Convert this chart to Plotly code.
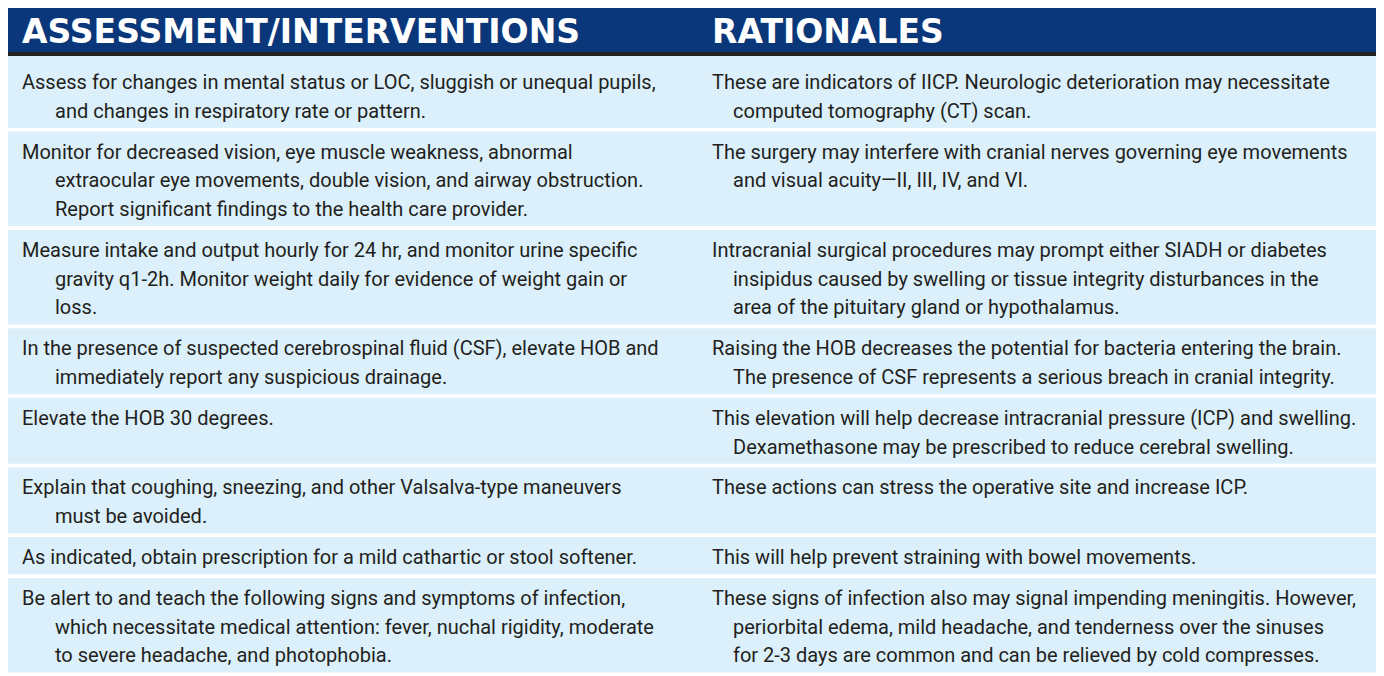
import plotly.graph_objects as go

# ---------------- data ----------------
headers = ["ASSESSMENT/INTERVENTIONS", "RATIONALES"]

interventions = [
    ["Assess for changes in mental status or LOC, sluggish or unequal pupils,",
     "and changes in respiratory rate or pattern."],
    ["Monitor for decreased vision, eye muscle weakness, abnormal",
     "extraocular eye movements, double vision, and airway obstruction.",
     "Report significant findings to the health care provider."],
    ["Measure intake and output hourly for 24 hr, and monitor urine specific",
     "gravity q1-2h. Monitor weight daily for evidence of weight gain or",
     "loss."],
    ["In the presence of suspected cerebrospinal fluid (CSF), elevate HOB and",
     "immediately report any suspicious drainage."],
    ["Elevate the HOB 30 degrees."],
    ["Explain that coughing, sneezing, and other Valsalva-type maneuvers",
     "must be avoided."],
    ["As indicated, obtain prescription for a mild cathartic or stool softener."],
    ["Be alert to and teach the following signs and symptoms of infection,",
     "which necessitate medical attention: fever, nuchal rigidity, moderate",
     "to severe headache, and photophobia."],
]

rationales = [
    ["These are indicators of IICP. Neurologic deterioration may necessitate",
     "computed tomography (CT) scan."],
    ["The surgery may interfere with cranial nerves governing eye movements",
     "and visual acuity\u2014II, III, IV, and VI."],
    ["Intracranial surgical procedures may prompt either SIADH or diabetes",
     "insipidus caused by swelling or tissue integrity disturbances in the",
     "area of the pituitary gland or hypothalamus."],
    ["Raising the HOB decreases the potential for bacteria entering the brain.",
     "The presence of CSF represents a serious breach in cranial integrity."],
    ["This elevation will help decrease intracranial pressure (ICP) and swelling.",
     "Dexamethasone may be prescribed to reduce cerebral swelling."],
    ["These actions can stress the operative site and increase ICP."],
    ["This will help prevent straining with bowel movements."],
    ["These signs of infection also may signal impending meningitis. However,",
     "periorbital edema, mild headache, and tenderness over the sinuses",
     "for 2-3 days are common and can be relieved by cold compresses."],
]

# ---------------- layout constants (window pixel coordinates) ----------------
PAGE_OFFSET = 8            # default body margin of the html page
WIN_W, WIN_H = 1384, 676
TABLE_LEFT, TABLE_RIGHT = 7, 1384
HEADER_TOP, HEADER_BOTTOM, RULE_BOTTOM = 7, 52, 56
HEADER_BLUE = "#0a377a"
RULE_COLOR = "#222222"
ROW_FILL = "#dbf0fb"
TEXT_COLOR = "#231f20"
SEP = 3.6
ROW_BASE = 37.3
LINE_STEP = 28.7
FIRST_BASELINE = 27.0
FIRST_ROW_EXTRA = 6
BODY_SIZE = 20
HEAD_SIZE = 33
COL_X = [22, 712]
INDENT = [33, 21]
BODY_FONT = "Roboto, Liberation Sans, Arial, sans-serif"
HEAD_FONT = "DejaVu Sans, Liberation Sans, Arial, sans-serif"

shapes = []
shapes.append(dict(type="rect", xref="x", yref="y", x0=TABLE_LEFT, x1=TABLE_RIGHT,
                   y0=HEADER_TOP, y1=HEADER_BOTTOM, fillcolor=HEADER_BLUE,
                   line=dict(width=0), layer="below"))
shapes.append(dict(type="rect", xref="x", yref="y", x0=TABLE_LEFT, x1=TABLE_RIGHT,
                   y0=HEADER_BOTTOM, y1=RULE_BOTTOM, fillcolor=RULE_COLOR,
                   line=dict(width=0), layer="below"))

text_x, text_y, text_s = [], [], []
top = RULE_BOTTOM
for i, (c1, c2) in enumerate(zip(interventions, rationales)):
    n = max(len(c1), len(c2))
    extra = FIRST_ROW_EXTRA if i == 0 else 0
    h = ROW_BASE + (n - 1) * LINE_STEP + extra
    shapes.append(dict(type="rect", xref="x", yref="y", x0=TABLE_LEFT, x1=TABLE_RIGHT,
                       y0=top, y1=top + h, fillcolor=ROW_FILL,
                       line=dict(width=0), layer="below"))
    for ci, col in enumerate((c1, c2)):
        for li, line in enumerate(col):
            baseline = top + extra + FIRST_BASELINE + li * LINE_STEP
            text_x.append(COL_X[ci] + (INDENT[ci] if li > 0 else 0))
            text_y.append(baseline - 0.25 * BODY_SIZE)
            text_s.append(line)
    top = top + h + SEP

fig = go.Figure()
fig.add_trace(go.Scatter(
    x=text_x, y=text_y, text=text_s, mode="text", textposition="middle right",
    textfont=dict(family=BODY_FONT, size=BODY_SIZE, color=TEXT_COLOR),
    hoverinfo="skip", showlegend=False, cliponaxis=False))

head_baseline = 43
fig.add_trace(go.Scatter(
    x=COL_X, y=[head_baseline - 0.25 * HEAD_SIZE] * 2, text=headers, mode="text",
    textposition="middle right",
    textfont=dict(family=HEAD_FONT, size=HEAD_SIZE, color="white", weight="bold"),
    hoverinfo="skip", showlegend=False, cliponaxis=False))

fig.update_layout(
    width=WIN_W - PAGE_OFFSET, height=WIN_H - PAGE_OFFSET,
    margin=dict(l=0, r=0, t=0, b=0),
    paper_bgcolor="white", plot_bgcolor="white",
    shapes=shapes,
    xaxis=dict(range=[PAGE_OFFSET, WIN_W], visible=False, fixedrange=True),
    yaxis=dict(range=[WIN_H, PAGE_OFFSET], visible=False, fixedrange=True),
)

fig.write_html("out.html", config={"displayModeBar": False})
